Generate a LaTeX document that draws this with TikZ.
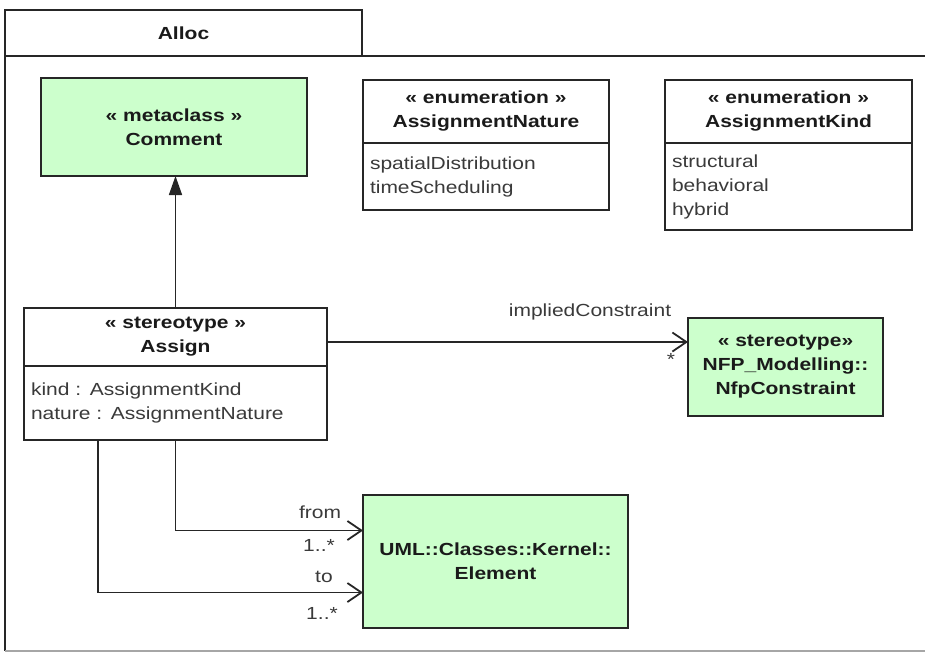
\documentclass[tikz,border=0pt]{standalone}
\usepackage{fontspec}
\setmainfont{Liberation Sans}[FakeStretch=1.2]
\usepackage{tikz}
\usetikzlibrary{arrows.meta,positioning,calc}
\definecolor{umlgreen}{HTML}{CCFFCC}
\definecolor{umlline}{HTML}{262626}
\definecolor{umltext}{HTML}{1A1A1A}
\definecolor{umlsoft}{HTML}{3A3A3A}
\newcommand{\umlfont}{\fontsize{17.5}{24}\selectfont}
\tikzset{
  classhead/.style={draw=umlline,fill=white,line width=1.8pt,align=center,
                    inner sep=2pt,outer sep=0pt,font=\umlfont\bfseries,text=umltext},
  classbody/.style={draw=umlline,fill=white,line width=1.8pt,align=left,
                    inner xsep=7pt,inner ysep=2pt,outer sep=0pt,font=\umlfont,text=umlsoft},
  metabox/.style={draw=umlline,fill=umlgreen,line width=1.8pt,align=center,
                  inner sep=2pt,outer sep=0pt,font=\umlfont\bfseries,text=umltext},
  rolelabel/.style={font=\umlfont,text=umlsoft,inner sep=0pt},
  genarr/.style={-{Triangle[length=19pt,width=13pt]},line width=1.6pt,draw=umlline},
  assocarr/.style={-{Straight Barb[length=14pt,width=19pt]},line width=1.8pt,draw=umlline}
}
\begin{document}
\begin{tikzpicture}[x=1pt,y=-1pt]
  \path[use as bounding box] (0,0) rectangle (925,654);
  % package frame
  \node[draw=umlline,line width=1.8pt,minimum width=357pt,minimum height=46pt,
        anchor=north west,outer sep=0pt,font=\umlfont\bfseries,text=umltext]
        (tab) at (5,10) {Alloc};
  \draw[umlline,line width=1.8pt] (925,56) -- (5,56) -- (5,651);
  \draw[black!35,line width=1.2pt] (5,651) -- (925,651);

  % classifiers
  \node[metabox,minimum width=266pt,minimum height=98pt,anchor=north west]
        (comment) at (41,78) {« metaclass »\\Comment};

  \node[classhead,minimum width=246pt,minimum height=63pt,anchor=north west]
        (naturehead) at (363,80) {« enumeration »\\AssignmentNature};
  \node[classbody,text width=232pt,minimum height=67pt,below=0pt of naturehead]
        (naturebody) {spatialDistribution\\timeScheduling};

  \node[classhead,minimum width=247pt,minimum height=63pt,anchor=north west]
        (kindhead) at (665,80) {« enumeration »\\AssignmentKind};
  \node[classbody,text width=233pt,minimum height=87pt,below=0pt of kindhead]
        (kindbody) {structural\\behavioral\\hybrid};

  \node[classhead,minimum width=303pt,minimum height=58pt,anchor=north west]
        (assignhead) at (24,308) {« stereotype »\\Assign};
  \node[classbody,text width=289pt,minimum height=74pt,below=0pt of assignhead]
        (assignbody) {kind : AssignmentKind\\nature : AssignmentNature};

  \node[metabox,minimum width=195pt,minimum height=98pt,anchor=north west]
        (nfp) at (688,318) {« stereotype»\\NFP\_Modelling::\\NfpConstraint};

  \node[metabox,minimum width=265pt,minimum height=133pt,anchor=north west]
        (element) at (363,495) {UML::Classes::Kernel::\\Element};

  % connectors
  \draw[genarr] (assignhead.north) -- (assignhead.north |- comment.south);
  \draw[assocarr] ($(assignhead.east)+(0,5)$) -- ($(assignhead.east -| nfp.west)+(0,5)$);
  \coordinate (fromend) at ($(element.west)+(0,-31)$);
  \coordinate (toend) at ($(element.west)+(0,31)$);
  \draw[assocarr] (assignbody.south) |- (fromend);
  \draw[assocarr] ($(assignbody.south west)+(74,0)$) |- (toend);

  % role names and multiplicities
  \node[rolelabel] (implied) at (590,312) {impliedConstraint};
  \node[rolelabel] (impliedmult) at (671,359) {*};
  \node[rolelabel] (fromrole) at (320,512) {from};
  \node[rolelabel] (frommult) at (319,545) {1..*};
  \node[rolelabel] (torole) at (324,577) {to};
  \node[rolelabel] (tomult) at (322,613) {1..*};
\end{tikzpicture}
\end{document}
